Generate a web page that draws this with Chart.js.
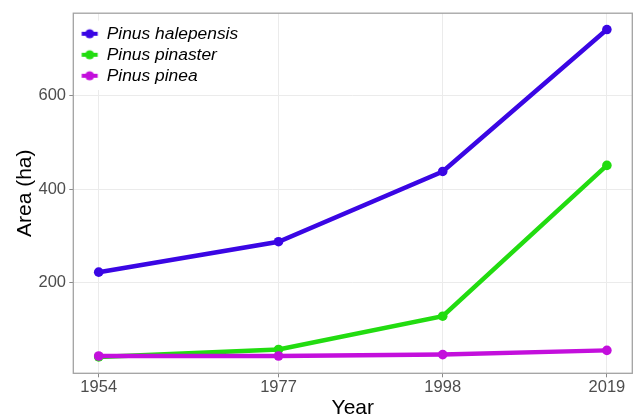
<!DOCTYPE html>
<html>
<head>
<meta charset="utf-8">
<script src="https://cdn.jsdelivr.net/npm/chart.js@4/dist/chart.umd.min.js"></script>
<style>
  html, body { margin: 0; padding: 0; background: #fff; }
  canvas { display: block; }
</style>
</head>
<body>
<canvas id="c" width="638" height="419"></canvas>
<script>
  // data
  const YEARS = [1954, 1977, 1998, 2019];
  const SPECIES = ['Pinus halepensis', 'Pinus pinaster', 'Pinus pinea'];
  const HALEPENSIS = [223, 288, 438, 741];
  const PINASTER = [42, 58, 129, 451];
  const PINEA = [44, 44, 47, 56];
  const Y_TICKS = [200, 400, 600];

  const COLORS = ['#3a06e4', '#22dc10', '#c30fdc'];
  const FONT = "'Liberation Sans', Arial, Helvetica, sans-serif";
  const TICK_COL = '#8a8a8a';
  const FRAME_COL = '#a2a2a2';

  // ggplot-style 5% expansion of the data range
  const expand = (lo, hi) => { const d = (hi - lo) * 0.05; return [lo - d, hi + d]; };
  const allY = HALEPENSIS.concat(PINASTER, PINEA);
  const [xMin, xMax] = expand(Math.min(...YEARS), Math.max(...YEARS));
  const [yMin, yMax] = expand(Math.min(...allY), Math.max(...allY));

  // legend key: short line with a dot in the middle
  function keyImage(color) {
    const c = document.createElement('canvas');
    c.width = 24; c.height = 12;
    const g = c.getContext('2d');
    const cx = 14.2;
    g.strokeStyle = color; g.fillStyle = color; g.lineWidth = 4;
    g.beginPath(); g.moveTo(cx - 8, 6); g.lineTo(cx + 8, 6); g.stroke();
    g.beginPath(); g.arc(cx, 6, 4.6, 0, Math.PI * 2); g.fill();
    return c;
  }
  const KEYS = COLORS.map(keyImage);

  const series = [HALEPENSIS, PINASTER, PINEA];
  const datasets = series.map((vals, i) => ({
    label: SPECIES[i],
    data: YEARS.map((yr, j) => ({ x: yr, y: vals[j] })),
    borderColor: COLORS[i],
    backgroundColor: COLORS[i],
    borderWidth: 4.5,
    pointRadius: 4.8,
    pointBorderWidth: 0,
    pointHoverRadius: 4.8,
    tension: 0,
    fill: false,
    order: series.length - i,   // later series drawn on top, like ggplot
  }));

  // white legend background + panel frame, drawn last
  const framePlugin = {
    id: 'frame',
    afterDraw(chart) {
      const { ctx, chartArea: a, legend } = chart;
      ctx.save();
      if (legend && legend.legendHitBoxes.length) {
        const hb = legend.legendHitBoxes;
        const right = Math.max(...hb.map(h => h.left + h.width)) + 7;
        const top = hb[0].top - 4.5;
        const last = hb[hb.length - 1];
        ctx.fillStyle = '#fff';
        ctx.fillRect(a.left + 1, top, right - a.left - 1, last.top + last.height + 5.5 - top);
        legend.draw();
      }
      ctx.strokeStyle = FRAME_COL;
      ctx.lineWidth = 1.3;
      ctx.strokeRect(a.left, a.top, a.right - a.left, a.bottom - a.top);
      ctx.restore();
    },
  };

  new Chart(document.getElementById('c'), {
    type: 'line',
    data: { datasets },
    plugins: [framePlugin],
    options: {
      responsive: false,
      animation: false,
      events: [],
      layout: { padding: { top: 11.7, right: 5.7, left: 0, bottom: 0 } },
      plugins: {
        tooltip: { enabled: false },
        legend: {
          position: 'chartArea',
          align: 'start',
          // empty title only pushes the items down from the canvas top
          title: { display: true, text: ' ', font: { size: 1 }, padding: { top: 20.3, bottom: 0 } },
          labels: {
            usePointStyle: true,
            pointStyleWidth: 21.1,
            padding: 3.6,
            color: '#000',
            font: { family: FONT, size: 17.4, style: 'italic' },
            sort: (a, b) => a.datasetIndex - b.datasetIndex,
            generateLabels(chart) {
              return Chart.defaults.plugins.legend.labels.generateLabels(chart).map(it => {
                it.pointStyle = KEYS[it.datasetIndex];
                return it;
              });
            },
          },
        },
      },
      scales: {
        x: {
          type: 'linear',
          min: xMin,
          max: xMax,
          afterBuildTicks: (s) => { s.ticks = YEARS.map(v => ({ value: v })); },
          afterFit: (s) => { s.height = 45.7; },
          grid: { color: '#ebebeb', lineWidth: 1, tickColor: TICK_COL, tickLength: 4, tickWidth: 1 },
          border: { display: false },
          ticks: {
            color: '#4d4d4d', padding: 0, maxRotation: 0, autoSkip: false,
            font: { family: FONT, size: 16.5 },
            callback: (v) => String(v),
          },
          title: {
            display: true, text: 'Year', color: '#000',
            font: { family: FONT, size: 21 }, padding: { top: 0, bottom: -2 },
          },
        },
        y: {
          type: 'linear',
          min: yMin,
          max: yMax,
          afterBuildTicks: (s) => { s.ticks = Y_TICKS.map(v => ({ value: v })); },
          afterFit: (s) => { s.width = 73.3; },
          grid: { color: '#ebebeb', lineWidth: 1, tickColor: TICK_COL, tickLength: 4, tickWidth: 1 },
          border: { display: false },
          ticks: {
            color: '#4d4d4d', padding: 3.3,
            font: { family: FONT, size: 16.5 },
            callback: (v) => String(v),
          },
          title: {
            display: true, text: 'Area (ha)', color: '#000',
            font: { family: FONT, size: 21 }, padding: { top: 12.4, bottom: 0 },
          },
        },
      },
    },
  });
</script>
</body>
</html>
